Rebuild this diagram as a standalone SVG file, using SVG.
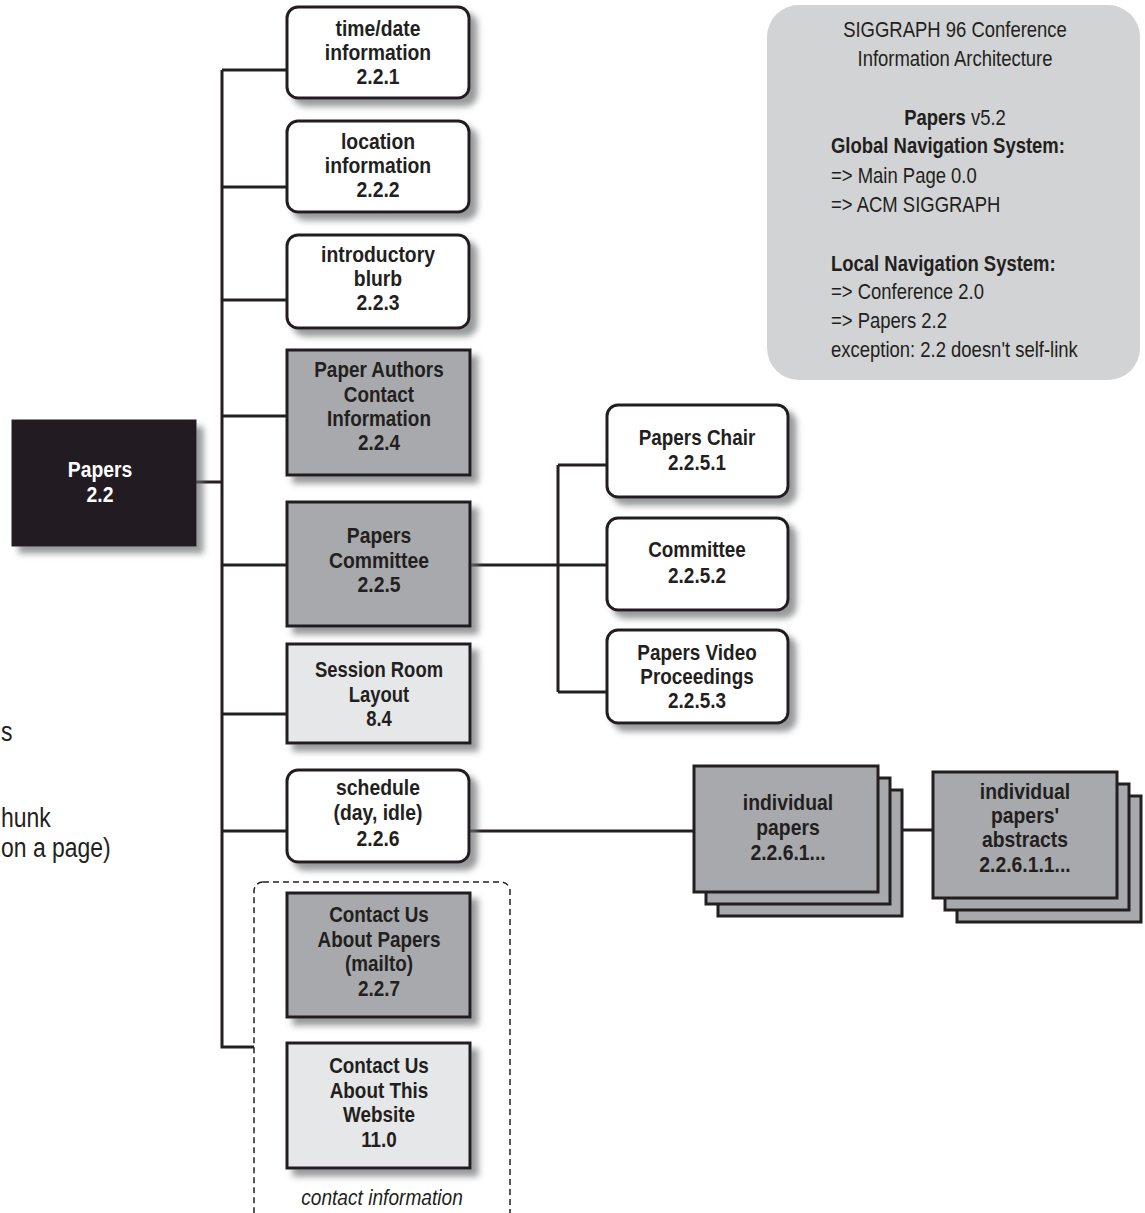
<svg xmlns="http://www.w3.org/2000/svg" width="1145" height="1213" viewBox="0 0 1145 1213">
<style>
.box{stroke:#231f20;stroke-width:3}
.w{fill:#ffffff}
.d{fill:#a7a9ac}
.l{fill:#e6e7e8}
.k{fill:#231f20}
.t{font-family:"Liberation Sans","Open Sans",sans-serif;font-weight:bold;font-size:22.5px;fill:#231f20;text-anchor:middle}
.wt{fill:#ffffff}
.info{font-family:"Liberation Sans","Open Sans",sans-serif;font-size:22px;fill:#231f20}
.b{font-weight:bold}
.side{font-family:"Liberation Sans","Open Sans",sans-serif;font-size:27px;fill:#231f20}
.c{fill:none;stroke:#231f20;stroke-width:3}
</style>
<defs>
<filter id="sh" x="-10%" y="-10%" width="130%" height="130%">
<feDropShadow dx="7" dy="7" stdDeviation="3" flood-color="#6d6e71" flood-opacity="0.7"/>
</filter>
</defs>
<rect width="1145" height="1213" fill="#ffffff"/>

<g id="connectors" class="c">
<path d="M222 70 V1047 H254"/>
<path d="M195 482 H222"/>
<path d="M222 70 H287 M222 187 H287 M222 300 H287 M222 416 H287 M222 565 H287 M222 714 H287 M222 831 H287"/>
<path d="M470 565 H607 M558 465 V692 M558 465 H607 M558 692 H607"/>
<path d="M469 831 H694"/>
<path d="M902 830 H933"/>
</g>

<g id="info">
<rect x="767" y="5" width="373" height="375" rx="32" fill="#d1d3d4"/>
<g transform="matrix(0.84 0 0 1 955 0)" text-anchor="middle">
<text class="info" x="0" y="37">SIGGRAPH 96 Conference</text>
<text class="info" x="0" y="66">Information Architecture</text>
<text class="info" x="0" y="125"><tspan class="b">Papers</tspan> v5.2</text>
</g>
<g transform="matrix(0.84 0 0 1 831 0)">
<text class="info b" x="0" y="153">Global Navigation System:</text>
<text class="info" x="0" y="183">=&gt; Main Page 0.0</text>
<text class="info" x="0" y="212">=&gt; ACM SIGGRAPH</text>
<text class="info b" x="0" y="271">Local Navigation System:</text>
<text class="info" x="0" y="299">=&gt; Conference 2.0</text>
<text class="info" x="0" y="328">=&gt; Papers 2.2</text>
<text class="info" x="0" y="357">exception: 2.2 doesn't self-link</text>
</g>
</g>

<g id="side-text" transform="matrix(0.85 0 0 1 1 0)">
<text class="side" x="0" y="741">s</text>
<text class="side" x="0" y="827">hunk</text>
<text class="side" x="0" y="857">on a page)</text>
</g>

<g id="papers">
<rect class="box k" x="13" y="421" width="182" height="124" filter="url(#sh)"/>
<g transform="matrix(0.86 0 0 1 100 0)">
<text class="t wt" x="0" y="477">Papers</text>
<text class="t wt" x="0" y="502">2.2</text>
</g>
</g>

<g id="n221">
<rect class="box w" x="287" y="7" width="182" height="91" rx="11" filter="url(#sh)"/>
<g transform="matrix(0.86 0 0 1 378 0)">
<text class="t" x="0" y="36">time/date</text>
<text class="t" x="0" y="60">information</text>
<text class="t" x="0" y="84">2.2.1</text>
</g>
</g>

<g id="n222">
<rect class="box w" x="287" y="121" width="182" height="91" rx="11" filter="url(#sh)"/>
<g transform="matrix(0.86 0 0 1 378 0)">
<text class="t" x="0" y="149">location</text>
<text class="t" x="0" y="173">information</text>
<text class="t" x="0" y="197">2.2.2</text>
</g>
</g>

<g id="n223">
<rect class="box w" x="287" y="235" width="182" height="93" rx="11" filter="url(#sh)"/>
<g transform="matrix(0.86 0 0 1 378 0)">
<text class="t" x="0" y="262">introductory</text>
<text class="t" x="0" y="286">blurb</text>
<text class="t" x="0" y="310">2.2.3</text>
</g>
</g>

<g id="n224">
<rect class="box d" x="287" y="350" width="183" height="125" filter="url(#sh)"/>
<g transform="matrix(0.84 0 0 1 379 0)">
<text class="t" x="0" y="377">Paper Authors</text>
<text class="t" x="0" y="402">Contact</text>
<text class="t" x="0" y="426">Information</text>
<text class="t" x="0" y="450">2.2.4</text>
</g>
</g>

<g id="n225">
<rect class="box d" x="287" y="502" width="183" height="124" filter="url(#sh)"/>
<g transform="matrix(0.86 0 0 1 379 0)">
<text class="t" x="0" y="543">Papers</text>
<text class="t" x="0" y="568">Committee</text>
<text class="t" x="0" y="592">2.2.5</text>
</g>
</g>

<g id="n84">
<rect class="box l" x="287" y="644" width="183" height="99" filter="url(#sh)"/>
<g transform="matrix(0.82 0 0 1 379 0)">
<text class="t" x="0" y="677">Session Room</text>
<text class="t" x="0" y="702">Layout</text>
<text class="t" x="0" y="726">8.4</text>
</g>
</g>

<g id="n226">
<rect class="box w" x="287" y="770" width="182" height="92" rx="11" filter="url(#sh)"/>
<g transform="matrix(0.86 0 0 1 378 0)">
<text class="t" x="0" y="795">schedule</text>
<text class="t" x="0" y="820">(day, idle)</text>
<text class="t" x="0" y="846">2.2.6</text>
</g>
</g>

<g id="contact-group">
<rect x="254" y="882" width="256" height="345" rx="9" fill="none" stroke="#231f20" stroke-width="1.5" stroke-dasharray="6,4"/>
<text x="0" y="1205" transform="matrix(0.87 0 0 1 382 0)" text-anchor="middle" style="font-family:'Liberation Sans','Open Sans',sans-serif;font-style:italic;font-size:22px;fill:#231f20">contact information</text>
</g>

<g id="n227">
<rect class="box d" x="287" y="893" width="183" height="124" filter="url(#sh)"/>
<g transform="matrix(0.84 0 0 1 379 0)">
<text class="t" x="0" y="922">Contact Us</text>
<text class="t" x="0" y="947">About Papers</text>
<text class="t" x="0" y="971">(mailto)</text>
<text class="t" x="0" y="996">2.2.7</text>
</g>
</g>

<g id="n110">
<rect class="box l" x="287" y="1043" width="183" height="125" filter="url(#sh)"/>
<g transform="matrix(0.84 0 0 1 379 0)">
<text class="t" x="0" y="1073">Contact Us</text>
<text class="t" x="0" y="1098">About This</text>
<text class="t" x="0" y="1122">Website</text>
<text class="t" x="0" y="1147">11.0</text>
</g>
</g>

<g id="n2251">
<rect class="box w" x="607" y="405" width="181" height="92" rx="11" filter="url(#sh)"/>
<g transform="matrix(0.84 0 0 1 697 0)">
<text class="t" x="0" y="445">Papers Chair</text>
<text class="t" x="0" y="470">2.2.5.1</text>
</g>
</g>

<g id="n2252">
<rect class="box w" x="607" y="518" width="181" height="92" rx="11" filter="url(#sh)"/>
<g transform="matrix(0.84 0 0 1 697 0)">
<text class="t" x="0" y="557">Committee</text>
<text class="t" x="0" y="583">2.2.5.2</text>
</g>
</g>

<g id="n2253">
<rect class="box w" x="607" y="630" width="181" height="93" rx="11" filter="url(#sh)"/>
<g transform="matrix(0.84 0 0 1 697 0)">
<text class="t" x="0" y="660">Papers Video</text>
<text class="t" x="0" y="684">Proceedings</text>
<text class="t" x="0" y="708">2.2.5.3</text>
</g>
</g>

<g id="n2261">
<rect class="box d" x="718" y="790" width="184" height="126"/>
<rect class="box d" x="706" y="778" width="184" height="126"/>
<rect class="box d" x="694" y="766" width="184" height="126"/>
<g transform="matrix(0.86 0 0 1 788 0)">
<text class="t" x="0" y="810">individual</text>
<text class="t" x="0" y="835">papers</text>
<text class="t" x="0" y="860">2.2.6.1...</text>
</g>
</g>

<g id="n22611">
<rect class="box d" x="957" y="796" width="184" height="126"/>
<rect class="box d" x="945" y="784" width="184" height="126"/>
<rect class="box d" x="933" y="772" width="184" height="126"/>
<g transform="matrix(0.86 0 0 1 1025 0)">
<text class="t" x="0" y="799">individual</text>
<text class="t" x="0" y="823">papers'</text>
<text class="t" x="0" y="847">abstracts</text>
<text class="t" x="0" y="872">2.2.6.1.1...</text>
</g>
</g>
</svg>
